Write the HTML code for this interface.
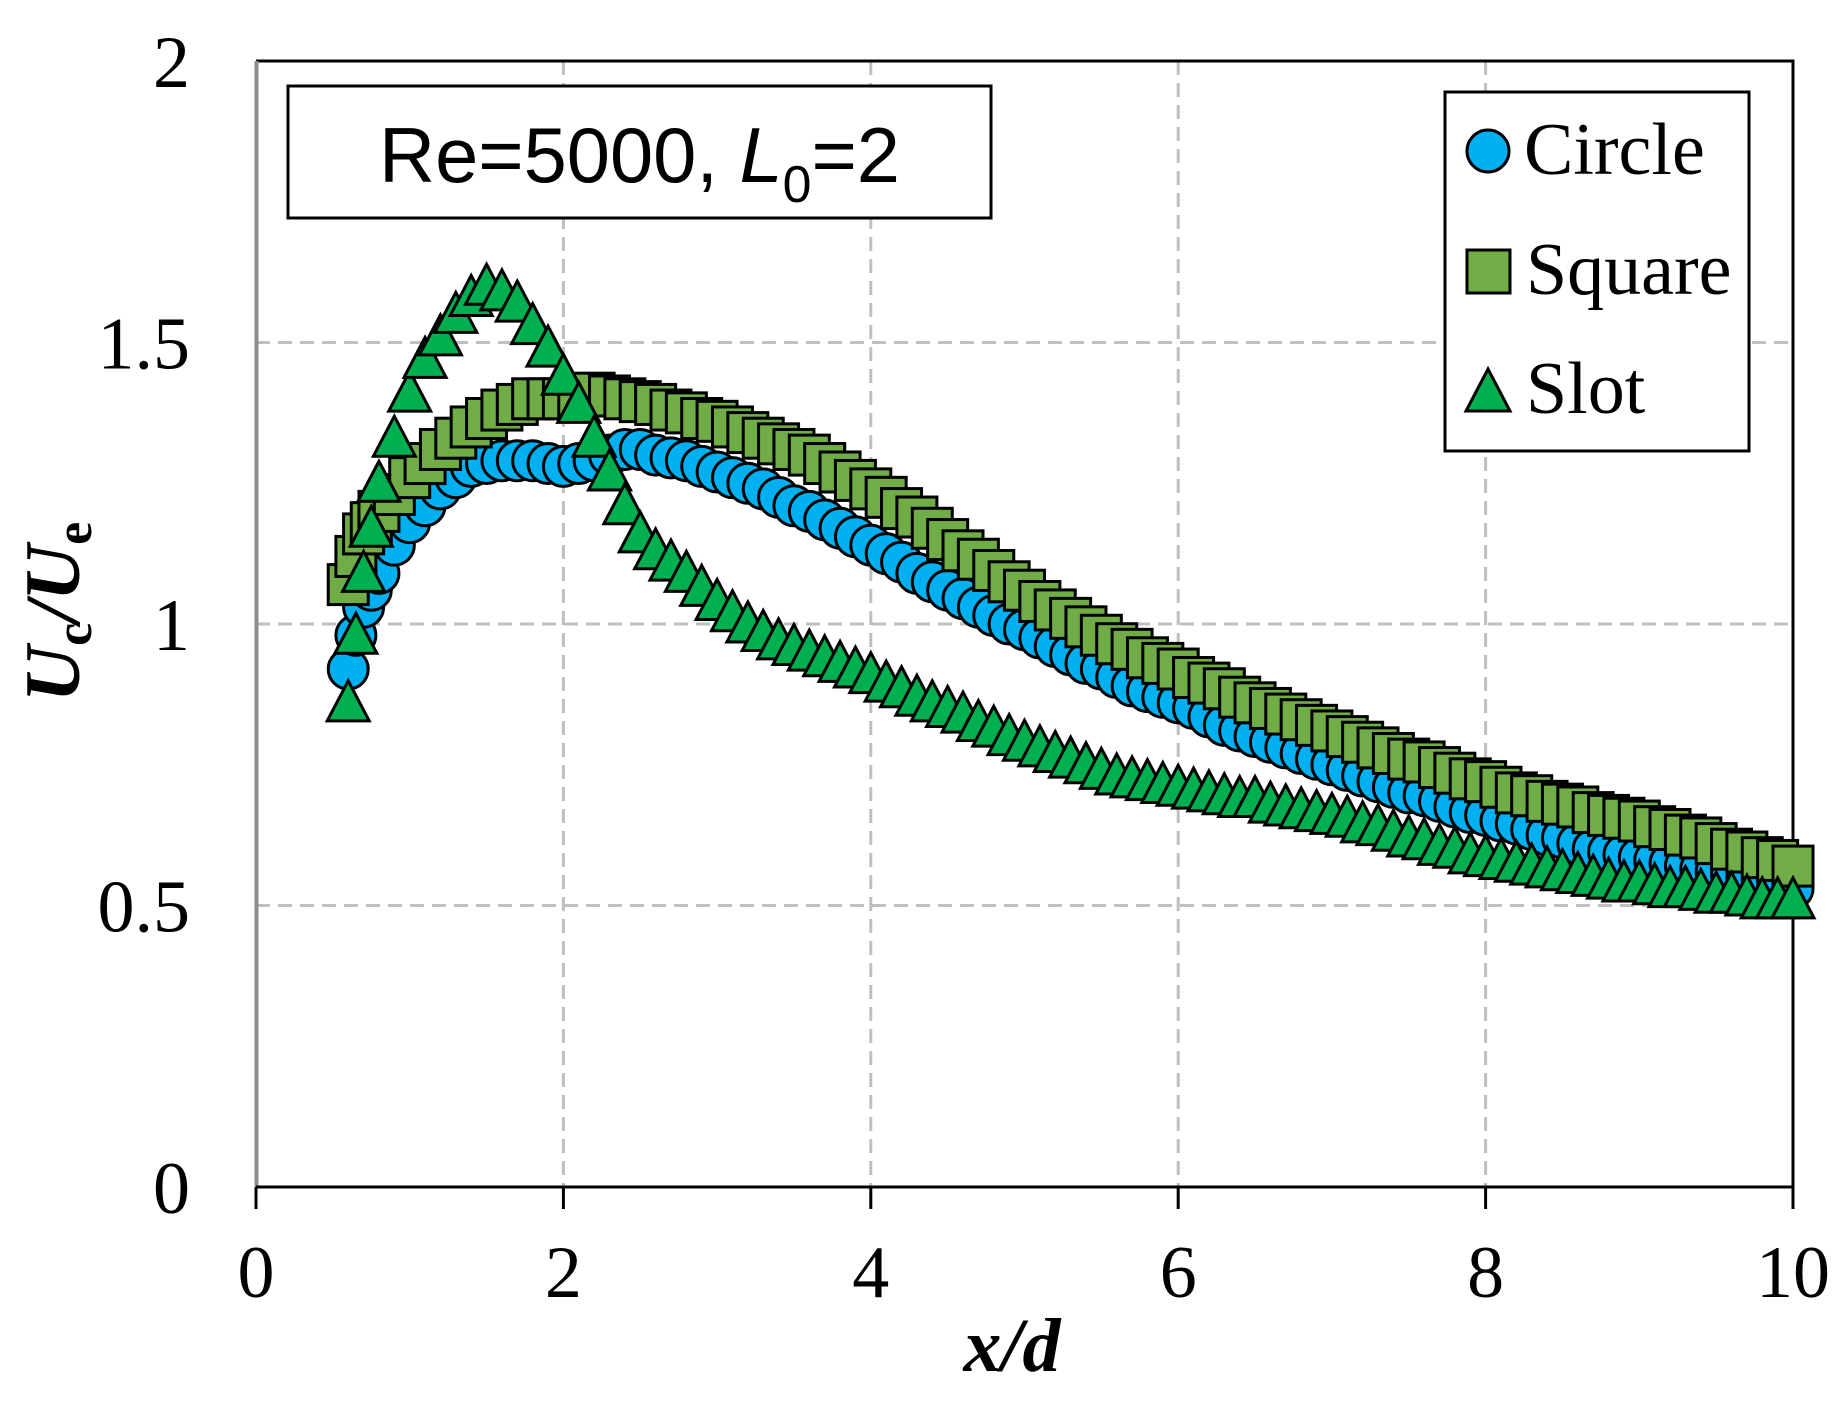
<!DOCTYPE html>
<html><head><meta charset="utf-8">
<style>
html,body{margin:0;padding:0;background:#fff;}
svg{display:block;}
</style></head>
<body>
<svg id="chart" width="1846" height="1406" viewBox="0 0 1846 1406" xmlns="http://www.w3.org/2000/svg">
  <rect x="0" y="0" width="1846" height="1406" fill="#fff"/>
  <g id="grid"></g>
  <g id="axes"></g>
  <g id="marks"></g>
  <g>
    <rect x="288" y="86" width="703" height="132" fill="#fff" stroke="#000" stroke-width="3"/>
    <text x="379" y="182" font-family="Liberation Sans, sans-serif" font-size="78" textLength="521" lengthAdjust="spacingAndGlyphs">Re=5000, <tspan font-style="italic">L</tspan><tspan font-size="52" dy="20">0</tspan><tspan dy="-20">=2</tspan></text>
  </g>
  <g>
    <rect x="1445" y="92" width="304" height="359" fill="#fff" stroke="#000" stroke-width="3"/>
    <g>
      <circle cx="1488" cy="151" r="21" fill="#00b0f0" stroke="#000" stroke-width="3"/>
      <text x="1524" y="174" font-family="Liberation Serif, serif" font-size="74">Circle</text>
    </g>
    <g>
      <rect x="1467" y="250" width="43" height="43" fill="#70ad47" stroke="#000" stroke-width="3"/>
      <text x="1526" y="294" font-family="Liberation Serif, serif" font-size="74">Square</text>
    </g>
    <g>
      <polygon points="1488,369 1510,411 1466,411" fill="#00b050" stroke="#000" stroke-width="3"/>
      <text x="1526" y="413" font-family="Liberation Serif, serif" font-size="74">Slot</text>
    </g>
  </g>
  <text x="1012" y="1371" text-anchor="middle" font-family="Liberation Serif, serif" font-size="76" font-weight="bold" font-style="italic">x/d</text>
  <text transform="translate(79,612) rotate(-90)" text-anchor="middle" font-family="Liberation Serif, serif" font-size="78" font-weight="bold" font-style="italic">U<tspan font-size="52" dy="12" font-style="normal">c</tspan><tspan dy="-12">/U</tspan><tspan font-size="52" dy="12" font-style="normal">e</tspan></text>
</svg>
<script>
const xTicks = [0, 2, 4, 6, 8, 10];
const xTickLabels = ["0", "2", "4", "6", "8", "10"];
const yTicks = [0, 0.5, 1, 1.5, 2];
const yTickLabels = ["0", "0.5", "1", "1.5", "2"];

const xs = [0.6,0.7,0.8,0.9,1.0,1.1,1.2,1.3,1.4,1.5,1.6,1.7,1.8,1.9,2.0,2.1,2.2,2.3,2.4,2.5,2.6,2.7,2.8,2.9,3.0,3.1,3.2,3.3,3.4,3.5,3.6,3.7,3.8,3.9,4.0,4.1,4.2,4.3,4.4,4.5,4.6,4.7,4.8,4.9,5.0,5.1,5.2,5.3,5.4,5.5,5.6,5.7,5.8,5.9,6.0,6.1,6.2,6.3,6.4,6.5,6.6,6.7,6.8,6.9,7.0,7.1,7.2,7.3,7.4,7.5,7.6,7.7,7.8,7.9,8.0,8.1,8.2,8.3,8.4,8.5,8.6,8.7,8.8,8.9,9.0,9.1,9.2,9.3,9.4,9.5,9.6,9.7,9.8,9.9,10.0];
const xsExtra = [0.65, 0.75];

const circleY = [0.92,1.03,1.09,1.14,1.18,1.21,1.24,1.26,1.28,1.285,1.29,1.29,1.29,1.285,1.28,1.285,1.29,1.30,1.31,1.31,1.30,1.295,1.29,1.28,1.27,1.26,1.25,1.24,1.225,1.21,1.20,1.185,1.17,1.155,1.14,1.125,1.11,1.09,1.075,1.06,1.045,1.03,1.015,1.0,0.99,0.975,0.96,0.945,0.93,0.92,0.905,0.89,0.88,0.87,0.86,0.85,0.835,0.82,0.81,0.80,0.79,0.78,0.77,0.76,0.75,0.74,0.73,0.72,0.71,0.70,0.695,0.685,0.675,0.665,0.66,0.65,0.645,0.635,0.625,0.62,0.61,0.60,0.595,0.59,0.585,0.58,0.575,0.57,0.565,0.56,0.555,0.55,0.545,0.535,0.53];
const circleExtraY = [0.98, 1.06];

const squareY = [1.07,1.16,1.20,1.23,1.26,1.285,1.31,1.33,1.35,1.365,1.38,1.39,1.40,1.40,1.40,1.405,1.41,1.405,1.40,1.395,1.39,1.38,1.375,1.365,1.36,1.35,1.34,1.33,1.32,1.31,1.30,1.285,1.27,1.255,1.24,1.225,1.205,1.19,1.17,1.15,1.13,1.115,1.095,1.075,1.06,1.04,1.025,1.01,0.995,0.98,0.965,0.955,0.94,0.93,0.92,0.905,0.895,0.885,0.87,0.86,0.85,0.84,0.83,0.82,0.81,0.80,0.79,0.78,0.77,0.76,0.755,0.745,0.735,0.725,0.72,0.71,0.70,0.695,0.685,0.68,0.675,0.665,0.66,0.655,0.65,0.64,0.635,0.625,0.62,0.61,0.60,0.595,0.585,0.58,0.57];
const squareExtraY = [1.12, 1.18];

const slotY = [0.86,1.09,1.25,1.33,1.41,1.47,1.51,1.55,1.58,1.60,1.59,1.57,1.53,1.49,1.44,1.39,1.33,1.27,1.21,1.16,1.13,1.11,1.09,1.065,1.04,1.02,1.00,0.985,0.97,0.96,0.95,0.94,0.93,0.92,0.91,0.895,0.885,0.87,0.86,0.85,0.84,0.825,0.815,0.80,0.79,0.78,0.77,0.76,0.75,0.74,0.73,0.725,0.72,0.715,0.71,0.705,0.70,0.695,0.69,0.69,0.68,0.675,0.67,0.665,0.66,0.655,0.645,0.64,0.63,0.62,0.615,0.605,0.60,0.59,0.585,0.58,0.575,0.57,0.565,0.56,0.555,0.55,0.545,0.54,0.54,0.535,0.53,0.53,0.525,0.52,0.52,0.515,0.51,0.51,0.51];
const slotExtraY = [0.98, 1.17];

const X0 = 256, X1 = 1793, Y0 = 1187, Y1 = 61;
const XMIN = 0, XMAX = 10, YMIN = 0, YMAX = 2;
function xScale(v){ return X0 + (v - XMIN) / (XMAX - XMIN) * (X1 - X0); }
function yScale(v){ return Y0 - (v - YMIN) / (YMAX - YMIN) * (Y0 - Y1); }

const NS = "http://www.w3.org/2000/svg";
function mk(tag, attrs, parent){
  const e = document.createElementNS(NS, tag);
  for (const k in attrs) e.setAttribute(k, attrs[k]);
  parent.appendChild(e);
  return e;
}
const grid = document.getElementById('grid');
const axes = document.getElementById('axes');
const marks = document.getElementById('marks');

// gridlines
xTicks.forEach(function(t){
  if (t === XMIN || t === XMAX) return;
  const l = mk('line', {x1:xScale(t), x2:xScale(t), y1:Y1, y2:Y0, stroke:'#bfbfbf', 'stroke-width':3, 'stroke-dasharray':'14,8'}, grid);
  
  
});
yTicks.forEach(function(t){
  if (t === YMIN || t === YMAX) return;
  const l = mk('line', {x1:X0, x2:X1, y1:yScale(t), y2:yScale(t), stroke:'#bfbfbf', 'stroke-width':3, 'stroke-dasharray':'14,8'}, grid);
  
  
});

// frame
const ft = mk('line', {x1:X0, x2:X1+1.5, y1:Y1, y2:Y1, stroke:'#000', 'stroke-width':3}, axes);


const fr = mk('line', {x1:X1, x2:X1, y1:Y1, y2:Y0, stroke:'#000', 'stroke-width':3}, axes);


const ya = mk('line', {x1:X0+0.5, x2:X0+0.5, y1:Y1, y2:Y0, stroke:'#8c8c8c', 'stroke-width':4}, axes);


const xa = mk('line', {x1:X0, x2:X1+1.5, y1:Y0, y2:Y0, stroke:'#000', 'stroke-width':3}, axes);



xTicks.forEach(function(t, i){
  const tk = mk('line', {x1:xScale(t), x2:xScale(t), y1:Y0, y2:Y0+22, stroke:'#000', 'stroke-width':3}, axes);
  
  
  const tx = mk('text', {x:xScale(t), y:1297, 'text-anchor':'middle', 'font-family':'Liberation Serif, serif', 'font-size':74}, axes);
  tx.textContent = xTickLabels[i];
  
  
});
yTicks.forEach(function(t, i){
  const tx = mk('text', {x:190, y:yScale(t)+26, 'text-anchor':'end', 'font-family':'Liberation Serif, serif', 'font-size':74}, axes);
  tx.textContent = yTickLabels[i];
  
  
});

function drawSeries(name, xArr, yArr, shape, fill){
  const g = mk('g', {}, marks);
  
  
  for (let i = 0; i < xArr.length; i++){
    const cx = xScale(xArr[i]), cy = yScale(yArr[i]);
    let e;
    if (shape === 'circle'){
      e = mk('circle', {cx:cx, cy:cy, r:20, fill:fill, stroke:'#000', 'stroke-width':3}, g);
    } else if (shape === 'square'){
      e = mk('rect', {x:cx-20, y:cy-20, width:40, height:40, fill:fill, stroke:'#000', 'stroke-width':3}, g);
    } else {
      e = mk('polygon', {points:(cx)+','+(cy-22)+' '+(cx+21)+','+(cy+18)+' '+(cx-21)+','+(cy+18), fill:fill, stroke:'#000', 'stroke-width':3}, g);
    }
    
    
  }
}
function merge(xa, ya, xe, ye){
  const pts = [];
  for (let i=0;i<xa.length;i++) pts.push([xa[i], ya[i]]);
  for (let i=0;i<xe.length;i++) pts.push([xe[i], ye[i]]);
  pts.sort(function(a,b){return a[0]-b[0];});
  return [pts.map(function(p){return p[0];}), pts.map(function(p){return p[1];})];
}
const c = merge(xs, circleY, xsExtra, circleExtraY);
const s = merge(xs, squareY, xsExtra, squareExtraY);
const t = merge(xs, slotY, xsExtra, slotExtraY);
drawSeries('circle', c[0], c[1], 'circle', '#00b0f0');
drawSeries('square', s[0], s[1], 'square', '#70ad47');
drawSeries('slot', t[0], t[1], 'triangle', '#00b050');
</script>
</body></html>
